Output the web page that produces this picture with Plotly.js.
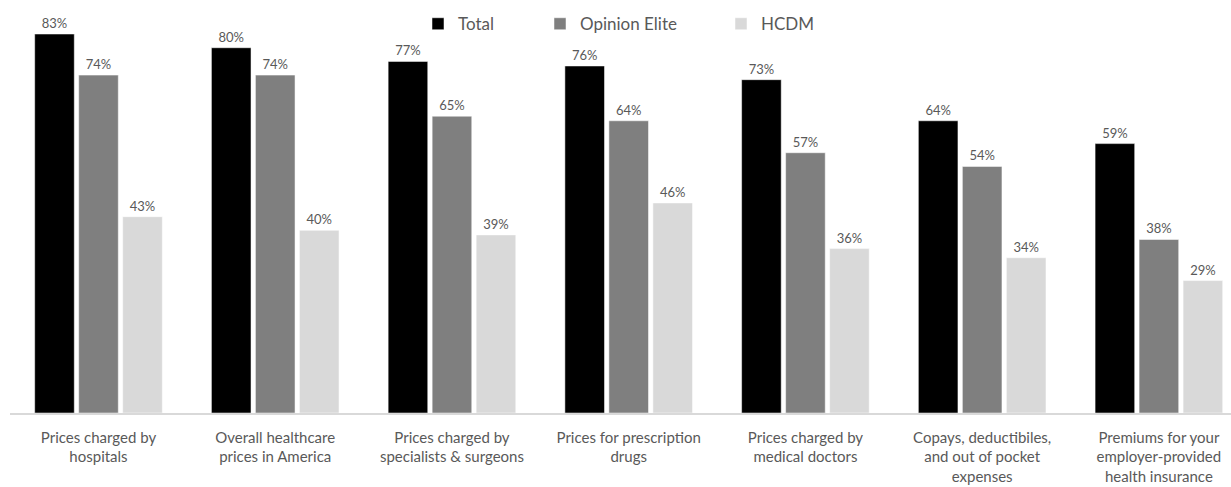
<!DOCTYPE html>
<html>
<head>
<meta charset="utf-8">
<script src="https://cdn.plot.ly/plotly-3.0.1.min.js"></script>
<style>html,body{margin:0;padding:0;background:#fff;overflow:hidden}#chart{width:1231px;height:487px}</style>
</head>
<body>
<div id="chart"></div>
<script>
const categories = [
  "Prices charged by<br>hospitals",
  "Overall healthcare<br>prices in America",
  "Prices charged by<br>specialists & surgeons",
  "Prices for prescription<br>drugs",
  "Prices charged by<br>medical doctors",
  "Copays, deductibiles,<br>and out of pocket<br>expenses",
  "Premiums for your<br>employer-provided<br>health insurance"
];
const total = [83, 80, 77, 76, 73, 64, 59];
const opinionElite = [74, 74, 65, 64, 57, 54, 38];
const hcdm = [43, 40, 39, 46, 36, 34, 29];

const FONT = "Lato, 'Open Sans', sans-serif";
const TXT = "#595959";

function series(name, vals, color, legendId) {
  return {
    type: "bar", name: name, x: categories, y: vals,
    marker: {color: color, line: {color: "#ffffff", width: 0.5}},
    text: vals.map(v => v + "%"), textposition: "outside",
    textfont: {family: FONT, size: 13, color: TXT},
    cliponaxis: false, hoverinfo: "skip", legend: legendId
  };
}

const data = [
  series("Total", total, "#000000", "legend"),
  series("Opinion Elite", opinionElite, "#7f7f7f", "legend2"),
  series("HCDM", hcdm, "#d9d9d9", "legend3")
];

function lg(x) {
  return {x: x, xref: "paper", xanchor: "left", y: 0.985, yref: "paper", yanchor: "top",
    orientation: "h", font: {family: FONT, size: 17, color: TXT},
    bgcolor: "rgba(0,0,0,0)", itemwidth: 30};
}

const layout = {
  width: 1231, height: 487,
  margin: {l: 10, r: 0, t: 0, b: 74},
  paper_bgcolor: "#ffffff", plot_bgcolor: "#ffffff",
  barmode: "group", bargap: 0.253, bargroupgap: 0.10,
  font: {family: FONT, color: TXT},
  showlegend: true,
  legend: lg((418 - 10) / 1221),
  legend2: lg((540 - 10) / 1221),
  legend3: lg((721 - 10) / 1221),
  xaxis: {
    type: "category", range: [-0.5007, 6.408],
    showline: true, linecolor: "#d9d9d9", linewidth: 1.5,
    showgrid: false, ticks: "", ticklabelstandoff: 10,
    tickfont: {family: FONT, size: 15, color: TXT},
    tickangle: 0, fixedrange: true
  },
  yaxis: {
    range: [0, 90.45], visible: false, showgrid: false, zeroline: false, fixedrange: true
  }
};

Plotly.newPlot("chart", data, layout, {displayModeBar: false, staticPlot: true});
</script>
</body>
</html>
